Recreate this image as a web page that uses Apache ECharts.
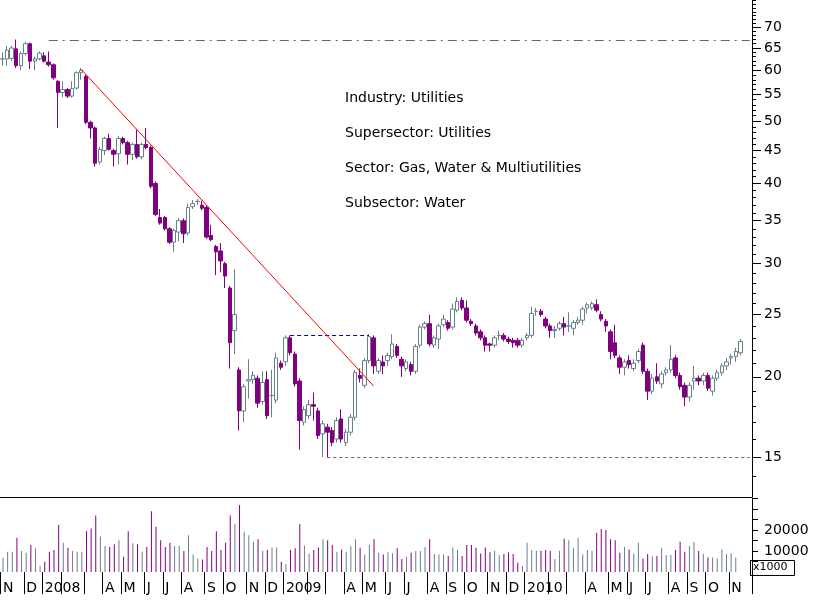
<!DOCTYPE html>
<html><head><meta charset="utf-8">
<script src="https://cdn.jsdelivr.net/npm/echarts@6/dist/echarts.min.js"></script>
<style>html,body{margin:0;padding:0;background:#fff}#c{width:817px;height:600px}</style>
</head><body><div id="c"></div>
<script>
// [open, close, low, high] weekly candles from Nov 2007
const candles = [
[62.5,62.5,61,64],[62.5,64.5,61,65.5],[62.6,65,62,65.5],[64.8,61,60.5,67],[61,63.7,60,64.2],
[63.7,66,63.3,66.5],[66,62,60.3,66.3],[62,62.5,60,63],[62.5,63.8,62.2,64.2],[63.2,62,61.7,64],
[61.8,61.2,60.8,64.2],[61.2,58.4,58,61.5],[57.7,55.4,48.8,57.9],[55.4,56,54.5,57.7],[56,54.7,54.3,56.3],
[54.7,56.2,54.4,57.7],[56.3,59.5,56,59.8],[59.5,60,58,60.5],[58.7,49.8,49.5,59],[49.8,48.8,47,50.1],
[48.8,43,42.5,49.1],[43.2,45.2,42.8,45.6],[45,47,44.3,47.3],[47,45.2,45,47.8],[45,44.4,42.5,45.3],
[44.5,47,42.8,47.4],[47,46.3,46,47.3],[46.3,44.4,42.8,46.6],[44.4,46,43.5,46.3],[46,44,43.7,48.5],
[44,46,43.6,46.3],[46,45.5,45.2,48.8],[45.5,39.6,39.3,45.8],[40,35.8,35.6,40.3],[35.4,34.7,34.5,36.5],
[35.4,34,33.8,35.6],[34,32.4,32.2,34.2],[32.4,33.8,31.3,34],[33.6,35,32.5,35.3],[35,33.4,32.3,35.3],
[33.5,36.7,33.2,37.2],[36.8,37.2,36.5,37.7],[37.5,37.5,37,37.8],[37,36.6,36.3,37.6],[36.7,33,32.8,36.9],
[33.2,32.7,32.5,34.5],[31.9,31.3,28.8,32.1],[31.4,30.3,29.1,32.3],[30,28.7,27.5,30.2],[27.5,22.6,20.6,27.7],
[23.6,25,21.7,29.4],[20.5,17.7,16.5,20.7],[17.7,19.3,17,19.5],[19.7,19.8,18.5,21.3],[19.8,20.1,19.5,20.4],
[19.9,18.2,17.9,20.1],[18.3,19.6,18.1,20.4],[19.8,17.4,17.2,20.4],[18.7,18.7,17.3,20.5],[18.4,21.4,18.2,21.8],
[21,20.7,20.5,21.2],[21.1,23,20.8,23.2],[23,21.8,21.6,23.2],[21.7,19.5,19.3,21.9],[19.7,17.1,15.4,19.9],
[17,17.8,16.8,18],[17.4,18.1,17.2,18.4],[18.1,18,17.1,18.9],[17.7,16.2,16,17.9],[16.3,16.9,15,17.1],
[16.7,16.4,15,16.9],[16.5,15.8,15.6,16.7],[16,17.1,15.8,17.3],[17.2,16,15.8,17.8],[15.8,16.4,15.6,16.6],
[16.4,17.3,16.2,17.5],[17.3,20.3,17.1,20.5],[20.1,19.9,19.6,20.6],[19.4,21.2,19.2,21.4],[21.2,23.1,21,23.3],
[23,20.8,20.2,23.2],[20.4,21.2,20.2,21.4],[21.1,20.8,20.2,21.6],[21.2,21.6,20.8,21.8],[21.5,22.5,21.3,23.3],
[22.3,21.6,21.4,22.5],[21.3,20.8,20,21.5],[20.6,21.1,20.4,21.3],[20.9,20.4,20.1,21.1],[20.4,22.3,20.2,22.5],
[22.4,23.9,22.2,24.1],[23.9,24.2,23.7,24.4],[24.2,22.5,22.3,25],[22.4,23,22.2,23.2],[22.9,24,22.1,24.2],
[24.1,24.6,23.9,25],[24.3,23.8,23.6,24.5],[23.9,25.5,23.7,26],[25.4,26.2,25.2,26.6],[26.3,25.6,25.4,26.6],
[25.6,24.5,24.3,26.3],[24.4,24.2,24,24.6],[24,23.4,23.2,24.2],[23.5,23,22.8,23.7],[23,22.4,21.9,23.2],
[22.5,22.4,21.9,22.6],[22.4,23,22.2,23.2],[23.2,23.2,22.8,23.6],[23.2,22.9,22.7,23.4],[22.9,22.7,22.5,23.1],
[22.8,22.6,22.2,23],[22.8,22.4,22.2,23],[22.4,22.8,22.2,23],[23,23.2,22.8,23.4],[23.2,25.1,23,25.7],
[25.3,25.3,24.9,25.6],[25.3,25,24.8,25.5],[24.6,24,23.8,24.8],[24,23.6,23,24.2],[23.6,23.7,23,24],
[23.8,24.2,23.6,24.4],[24.2,23.9,23.2,24.8],[24,24,23.5,25.2],[23.8,24.3,23.2,24.5],[24.3,24.5,24.1,24.8],
[24.5,25.5,24.1,25.7],[25.6,25.9,25.1,26.1],[25.6,26,25.4,26.2],[25.9,25.4,25.2,26.4],[25,24.6,24.4,25.3],
[24.4,24,23.5,24.6],[23.5,21.9,21.3,23.7],[22.6,21.6,21.4,24.1],[21.4,20.7,20.2,21.6],[20.7,21.1,20.1,21.3],
[21.2,20.9,20.6,21.6],[20.6,21,20.4,21.3],[21.2,21.9,21,22.1],[22.4,20.4,20.2,22.6],[20.4,19,18.4,20.6],
[19,19.9,18.8,20.2],[20,19.7,19.5,21],[19.5,20.2,19.2,20.4],[20.3,20.5,20.1,20.7],[20.5,21.3,20.3,22.4],
[21.4,20.1,19.9,21.6],[20.1,19.3,19.1,20.3],[19.4,18.6,18,19.6],[18.6,19.4,18.3,19.6],[19.7,19.9,19.1,20.8],
[19.9,19.7,19.4,20.1],[19.7,20.1,19.4,20.3],[20.1,19.2,19,20.3],[19,19.9,18.7,20.1],[19.9,20.3,19.7,20.5],
[20.3,20.8,20.1,21],[20.8,21.1,20.5,21.4],[21.4,21.5,20.9,21.7],[21.5,21.9,21.1,22.2],[21.8,22.7,21.6,22.9]
];
// volume in thousands
const volume = [
6.8,9.7,9.7,16.3,10,9.2,12.9,11.3,2.9,4.9,
9.7,10.5,22.4,14,11.6,10,9.7,9.7,19.5,20.8,
27,17,12.4,12,13.2,15.2,7.3,19.5,13.7,13.3,
9.7,12,29,21.6,15.2,12,14,12.4,12.4,10,
17.6,8.4,6.5,6,12,10,19.5,10.5,14,27,
23,32,19.2,17.6,14.4,15.6,10.2,10.5,11.7,11.7,
4.9,3.8,10.5,11.3,22.9,12.7,8.6,10.5,11.7,15.6,
15.2,12.9,9.7,10.8,9.7,12.4,15.6,11.6,8.4,12.9,
15.6,9.2,8.4,9.4,9,11.3,6.2,7.3,9.2,10,10,
12,15.6,8.6,8.4,8.4,7.6,11.7,10.5,7.6,12.9,
12.9,11.6,8.9,11.7,9.4,10.2,8.1,8.6,9.5,8.6,
4.4,2.9,14,10.5,10.2,10.2,10.5,10.2,6.2,10.2,
16,15.2,11.6,16.3,8.4,10.5,10.2,18.7,20.5,20,
15.6,15.2,9.2,12,10.8,8.9,14,6.5,8.6,7.6,
7.6,11.3,8.1,8.1,10.5,14.4,9.7,12.4,14.3,10,
8.6,7,7,6.5,10.8,8.6,9,7
];
const priceLabels = [15,20,25,30,35,40,45,50,55,60,65,70];
const volLabels = [10000,20000];
const monthLetters = ['J','F','M','A','M','J','J','A','S','O','N','D'];
const textLines = ['Industry: Utilities','Supersector: Utilities','Sector: Gas, Water & Multiutilities','Subsector: Water'];
const resistance = 66.9, support = 15.0, boxTop = 23.2;
const trendStart = [17, 60.2], trendEnd = [80, 19.35];

const N = 162;
const start = new Date(2007, 10, 2);
const cats = [], tickIdx = {};
let prevMonth = -1;
for (let i = 0; i < N; i++) {
  const d = new Date(start.getTime() + i * 7 * 86400000);
  cats.push(d.toISOString().slice(0,10));
  if (d.getMonth() !== prevMonth && i < candles.length) {
    const m = d.getMonth();
    tickIdx[i] = m === 0 ? String(d.getFullYear()) : (m === 1 || m === 2 ? '' : monthLetters[m]);
    prevMonth = m;
  }
}
const UP = '#668088', DOWN = '#800080';
const volData = volume.map((v, i) => {
  const c = candles[i];
  const up = c ? c[1] >= c[0] : true;
  return { value: v * 1000, itemStyle: { color: up ? UP : DOWN } };
});
const intTicks = []; for (let v = 14; v <= 77; v++) intTicks.push(v);
const font = 'DejaVu Sans';
const chart = echarts.init(document.getElementById('c'));
chart.setOption({
  animation: false,
  grid: [
    { left: 0, right: 65, top: 0, height: 497 },
    { left: 0, right: 65, top: 498, height: 77 }
  ],
  xAxis: [
    { type: 'category', data: cats, gridIndex: 0, boundaryGap: true,
      axisLine: { show: true, lineStyle: { color: '#000', width: 1 } },
      axisTick: { show: false }, axisLabel: { show: false }, splitLine: { show: false } },
    { type: 'category', data: cats, gridIndex: 1, boundaryGap: true,
      axisLine: { show: false },
      axisTick: { show: true, length: 22, interval: (i) => tickIdx[i] !== undefined, lineStyle: { color: '#000' } },
      axisLabel: { show: true, interval: (i) => tickIdx[i] !== undefined, formatter: (v, i) => tickIdx[i] || '',
        align: 'left', color: '#000', fontFamily: font, fontSize: 14, margin: 6 } }
  ],
  yAxis: [
    { type: 'log', gridIndex: 0, position: 'right', min: 13, max: 77.2,
      axisLine: { show: true, lineStyle: { color: '#000' } },
      axisTick: { show: true, length: 4, customValues: intTicks, lineStyle: { color: '#000' } },
      axisLabel: { show: false }, splitLine: { show: false } },
    { type: 'log', gridIndex: 0, position: 'right', min: 13, max: 77.2,
      axisLine: { show: false },
      axisTick: { show: true, length: 9, customValues: priceLabels, lineStyle: { color: '#000' } },
      axisLabel: { show: true, customValues: priceLabels, color: '#000', fontFamily: font, fontSize: 14, margin: 12 },
      splitLine: { show: false } },
    { type: 'value', gridIndex: 1, position: 'right', min: -1400, max: 35300,
      axisLine: { show: true, lineStyle: { color: '#000' } },
      axisTick: { show: true, length: 6, customValues: [5000,10000,15000,20000,25000,30000,35000], lineStyle: { color: '#000' } },
      axisLabel: { show: true, customValues: volLabels, formatter: (v) => String(v), color: '#000', fontFamily: font, fontSize: 14, margin: 12 },
      splitLine: { show: false } }
  ],
  series: [
    { type: 'candlestick', xAxisIndex: 0, yAxisIndex: 0, data: candles, barWidth: 4,
      itemStyle: { color: '#fff', color0: DOWN, borderColor: UP, borderColor0: DOWN, borderWidth: 1 },
      markLine: { silent: true, symbol: 'none', label: { show: false },
        data: [
          [{ coord: [10, resistance], lineStyle: { color: '#666', type: [9,5,2,5], width: 1 } }, { coord: [161, resistance] }],
          [{ coord: [70, support], lineStyle: { color: '#666', type: [3,3], width: 1 } }, { coord: [161, support] }],
          [{ coord: [62, boxTop], lineStyle: { color: '#0000cc', type: [4,3], width: 1 } }, { coord: [79, boxTop] }],
          [{ coord: trendStart, lineStyle: { color: '#ff0000', type: 'solid', width: 1 } }, { coord: trendEnd }]
        ] } },
    { type: 'bar', xAxisIndex: 1, yAxisIndex: 2, data: volData, barWidth: 1 }
  ],
  graphic: [
    ...textLines.map((t, i) => ({ type: 'text', left: 345, top: 91 + i * 35,
      style: { text: t, fill: '#000', font: '14px "DejaVu Sans"' } })),
    { type: 'rect', left: 750, top: 560, shape: { width: 44, height: 15 }, style: { fill: '#fff', stroke: '#000' } },
    { type: 'text', left: 753, top: 562, style: { text: 'x1000', fill: '#000', font: '11px "DejaVu Sans"' } }
  ]
});
</script></body></html>
